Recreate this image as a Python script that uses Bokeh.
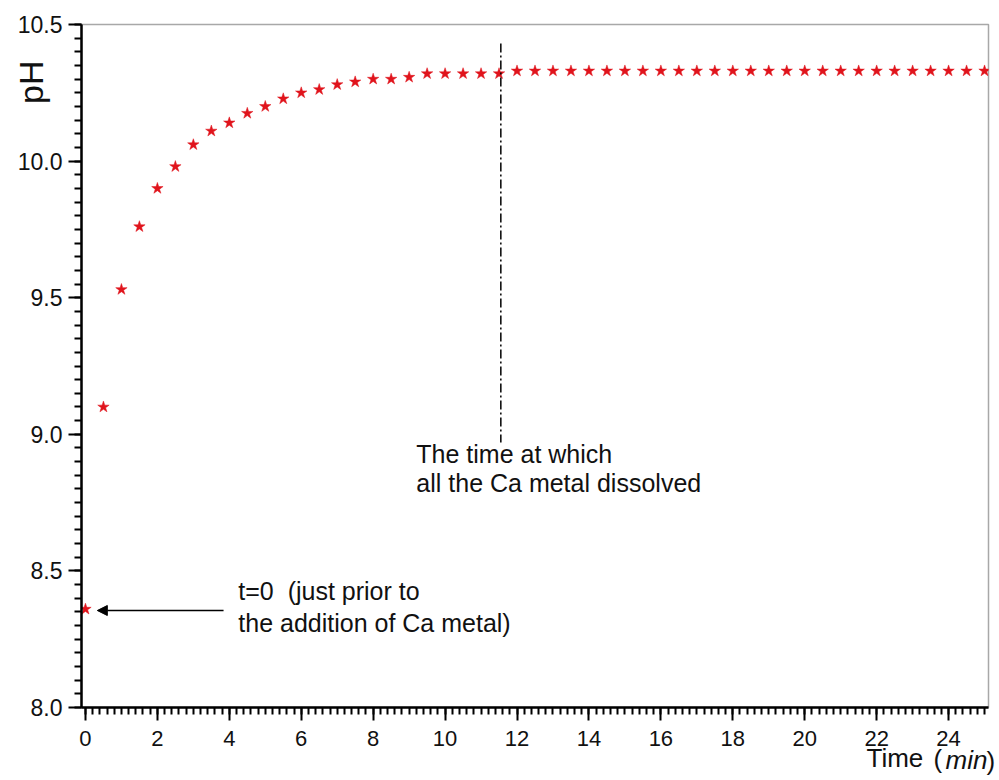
from bokeh.plotting import figure
from bokeh.models import (Range1d, SingleIntervalTicker, PrintfTickFormatter,
                          Label, Arrow, NormalHead, ColumnDataSource, Title)
from bokeh.embed import file_html
from bokeh.resources import INLINE

# ---- data ----
time_min = [0, 0.5, 1, 1.5, 2, 2.5, 3, 3.5, 4, 4.5, 5, 5.5, 6, 6.5, 7, 7.5,
            8, 8.5, 9, 9.5, 10, 10.5, 11, 11.5, 12, 12.5, 13, 13.5, 14, 14.5,
            15, 15.5, 16, 16.5, 17, 17.5, 18, 18.5, 19, 19.5, 20, 20.5, 21,
            21.5, 22, 22.5, 23, 23.5, 24, 24.5, 25]
ph = [8.36, 9.10, 9.53, 9.76, 9.90, 9.98, 10.06, 10.11, 10.14, 10.175, 10.20,
      10.228, 10.25, 10.262, 10.28, 10.29, 10.30, 10.30, 10.307, 10.32, 10.32,
      10.32, 10.32, 10.32, 10.33, 10.33, 10.33, 10.33, 10.33, 10.33, 10.33,
      10.33, 10.33, 10.33, 10.33, 10.33, 10.33, 10.33, 10.33, 10.33, 10.33,
      10.33, 10.33, 10.33, 10.33, 10.33, 10.33, 10.33, 10.33, 10.33, 10.33]

dissolved_time = [11.55]
dissolved_line_top = [10.43]
dissolved_line_bottom = [8.97]

arrow_start = (3.84, 8.355)
arrow_end = (0.33, 8.355)

x_ticks_interval = 2
y_ticks_interval = 0.5

y_title = "pH"
x_title_parts = ["Time", "(", "min", ")"]
x_title_styles = ["normal", "normal", "italic", "normal"]

FONT = "Liberation Sans"

p = figure(width=998, height=778, output_backend="svg", toolbar_location=None,
           x_range=Range1d(-0.11, 25.11), y_range=Range1d(8.0, 10.5),
           min_border_left=81, min_border_right=10, min_border_top=24,
           min_border_bottom=71)
p.title.visible = False
p.grid.visible = False
p.background_fill_color = "white"
p.border_fill_color = "white"
p.outline_line_color = "#a8a8a8"
p.outline_line_width = 1.5

p.xaxis.ticker = SingleIntervalTicker(interval=x_ticks_interval, num_minor_ticks=10)
p.yaxis.ticker = SingleIntervalTicker(interval=y_ticks_interval, num_minor_ticks=10)
p.yaxis.formatter = PrintfTickFormatter(format="%.1f")
for ax in (p.xaxis[0], p.yaxis[0]):
    ax.axis_line_color = "black"
    ax.axis_line_width = 2.5
    ax.major_tick_line_color = "black"
    ax.major_tick_line_width = 2
    ax.minor_tick_line_color = "black"
    ax.minor_tick_line_width = 2
    ax.major_tick_in = 0
    ax.major_tick_out = 13
    ax.minor_tick_in = 0
    ax.minor_tick_out = 7
    ax.major_label_text_font = FONT
    ax.major_label_text_color = "#111111"
p.xaxis.major_label_text_font_size = "22px"
p.yaxis.major_label_text_font_size = "23px"
p.xaxis.major_label_standoff = 10
p.yaxis.major_label_standoff = 6


def piece(side, text, style, size, align, valign, offset, standoff):
    p.add_layout(Title(text=text, text_font=FONT, text_font_size=size,
                       text_font_style=style, text_color="#111111",
                       align=align, vertical_align=valign, offset=offset,
                       standoff=standoff), side)


# blank spacer line below the x tick labels
piece("below", "\u00a0", "normal", "10px", "left", "top", 0, -3)
for txt, sty, off in zip(x_title_parts, x_title_styles, [785, 852, 864, 905]):
    piece("below", txt, sty, "26px", "left", "top", off, -31)

piece("left", y_title, "normal", "34px", "right", "bottom", 36, -70)

src = ColumnDataSource(dict(t=time_min, ph=ph))
p.scatter("t", "ph", source=src, marker="star", size=12,
          fill_color="#e0141c", line_color="#e0141c", line_width=0.5)

p.segment(x0=dissolved_time, y0=dissolved_line_top, x1=dissolved_time,
          y1=dissolved_line_bottom, line_color="black", line_width=1.5,
          line_dash="9 3 2 3")

p.add_layout(Arrow(end=NormalHead(size=10, fill_color="black", line_color="black"),
                   x_start=arrow_start[0], y_start=arrow_start[1],
                   x_end=arrow_end[0], y_end=arrow_end[1],
                   line_color="black", line_width=1.5))


def lab(x, y, text, size="25px"):
    p.add_layout(Label(x=x, y=y, text=text, text_font=FONT,
                       text_font_size=size, text_color="#111111",
                       text_baseline="middle"))


lab(9.2, 8.928, "The time at which")
lab(9.2, 8.820, "all the Ca metal dissolved")
lab(4.25, 8.426, "t=0\u00a0 (just prior to")
lab(4.25, 8.309, "the addition of Ca metal)")

open("out.html", "w").write(file_html(p, INLINE))
